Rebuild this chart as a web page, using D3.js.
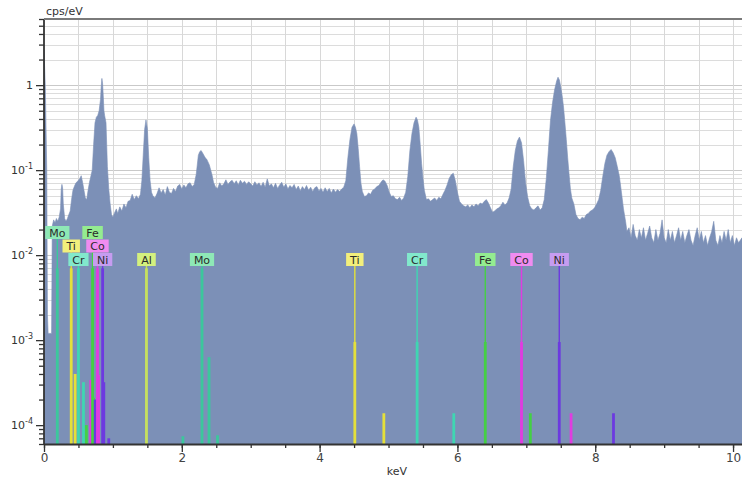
<!DOCTYPE html>
<html><head><meta charset="utf-8">
<script src="https://cdn.jsdelivr.net/npm/d3@7"></script>
<style>
body{margin:0;background:#fff;}
svg{display:block;font-family:"DejaVu Sans",Verdana,sans-serif;}
</style>
</head><body>
<svg id="chart" width="742" height="479"></svg>
<script>
// ---- DATA ----
// spectrum: [energy keV, cps/eV]
const spectrum = [
[0.00,2.6],[0.02,0.9],[0.04,0.1],[0.05,0.002],[0.06,0.0012],[0.08,0.0012],[0.10,0.0012],[0.11,0.0012],
[0.12,0.022],[0.14,0.026],[0.16,0.024],[0.18,0.027],[0.20,0.025],[0.22,0.028],[0.24,0.035],[0.25,0.06],
[0.26,0.068],[0.27,0.062],[0.28,0.04],[0.30,0.027],[0.32,0.025],[0.34,0.027],[0.36,0.03],[0.38,0.033],
[0.40,0.045],[0.42,0.058],[0.44,0.064],[0.46,0.07],[0.48,0.073],[0.50,0.076],[0.52,0.08],[0.54,0.086],
[0.56,0.072],[0.58,0.058],[0.60,0.047],[0.62,0.045],[0.64,0.058],[0.66,0.072],[0.68,0.085],[0.70,0.1],
[0.72,0.2],[0.74,0.36],[0.76,0.42],[0.78,0.44],[0.80,0.5],[0.82,0.68],[0.83,0.95],[0.84,1.2],
[0.85,1.05],[0.86,0.75],[0.87,0.5],[0.88,0.44],[0.90,0.36],[0.91,0.2],[0.92,0.11],[0.94,0.06],
[0.96,0.04],[0.98,0.03],[1.00,0.028],[1.02,0.031],[1.05,0.035],[1.07,0.031],[1.10,0.037],[1.13,0.033],
[1.16,0.04],[1.19,0.036],[1.22,0.043],[1.25,0.044],[1.28,0.052],[1.31,0.045],[1.34,0.05],[1.37,0.046],
[1.40,0.052],[1.42,0.075],[1.44,0.15],[1.46,0.3],[1.48,0.39],[1.50,0.31],[1.52,0.14],[1.54,0.075],
[1.56,0.055],[1.58,0.05],[1.61,0.047],[1.64,0.053],[1.67,0.062],[1.70,0.054],[1.73,0.059],[1.76,0.051],
[1.79,0.064],[1.82,0.055],[1.85,0.053],[1.88,0.061],[1.91,0.056],[1.94,0.065],[1.97,0.068],[2.00,0.06],
[2.03,0.067],[2.06,0.062],[2.09,0.069],[2.12,0.071],[2.15,0.064],[2.18,0.068],[2.21,0.09],[2.24,0.15],
[2.26,0.165],[2.28,0.17],[2.30,0.16],[2.32,0.15],[2.34,0.14],[2.36,0.135],[2.38,0.125],[2.40,0.115],
[2.42,0.1],[2.44,0.087],[2.46,0.072],[2.49,0.063],[2.52,0.061],[2.55,0.071],[2.58,0.065],[2.61,0.069],
[2.64,0.077],[2.67,0.068],[2.70,0.073],[2.73,0.076],[2.76,0.069],[2.79,0.075],[2.82,0.067],[2.85,0.076],
[2.88,0.07],[2.91,0.074],[2.94,0.068],[2.97,0.073],[3.00,0.069],[3.03,0.065],[3.06,0.073],[3.09,0.067],
[3.12,0.071],[3.15,0.064],[3.18,0.072],[3.21,0.063],[3.24,0.079],[3.27,0.065],[3.30,0.069],[3.33,0.062],
[3.36,0.07],[3.39,0.061],[3.42,0.067],[3.45,0.072],[3.48,0.063],[3.51,0.069],[3.54,0.06],[3.57,0.066],
[3.60,0.062],[3.63,0.068],[3.66,0.059],[3.69,0.065],[3.72,0.057],[3.75,0.064],[3.78,0.059],[3.81,0.066],
[3.84,0.058],[3.87,0.063],[3.90,0.056],[3.93,0.062],[3.96,0.064],[3.99,0.057],[4.02,0.061],[4.05,0.055],
[4.08,0.062],[4.11,0.056],[4.14,0.061],[4.17,0.054],[4.20,0.06],[4.23,0.055],[4.26,0.059],[4.29,0.056],
[4.32,0.06],[4.35,0.063],[4.38,0.075],[4.41,0.14],[4.44,0.23],[4.47,0.32],[4.50,0.35],[4.52,0.32],
[4.54,0.27],[4.56,0.18],[4.58,0.11],[4.60,0.07],[4.62,0.056],[4.65,0.049],[4.68,0.05],[4.71,0.054],
[4.74,0.052],[4.77,0.058],[4.80,0.06],[4.83,0.064],[4.86,0.066],[4.89,0.072],[4.92,0.077],[4.95,0.074],
[4.98,0.066],[5.01,0.055],[5.04,0.049],[5.07,0.05],[5.10,0.046],[5.13,0.045],[5.16,0.048],[5.19,0.044],
[5.22,0.047],[5.25,0.055],[5.28,0.085],[5.31,0.17],[5.34,0.27],[5.37,0.36],[5.40,0.42],[5.42,0.39],
[5.44,0.32],[5.46,0.2],[5.48,0.12],[5.50,0.08],[5.52,0.058],[5.55,0.045],[5.58,0.046],[5.61,0.043],
[5.64,0.045],[5.67,0.047],[5.70,0.044],[5.73,0.048],[5.76,0.046],[5.79,0.052],[5.82,0.058],[5.85,0.067],
[5.88,0.08],[5.91,0.088],[5.94,0.092],[5.97,0.075],[6.00,0.055],[6.03,0.043],[6.06,0.04],[6.09,0.038],
[6.12,0.037],[6.15,0.039],[6.18,0.036],[6.21,0.039],[6.24,0.037],[6.27,0.04],[6.30,0.038],[6.33,0.041],
[6.36,0.04],[6.39,0.043],[6.42,0.045],[6.45,0.041],[6.48,0.036],[6.51,0.032],[6.54,0.033],[6.57,0.035],
[6.60,0.036],[6.63,0.038],[6.66,0.042],[6.69,0.039],[6.72,0.041],[6.75,0.047],[6.78,0.06],[6.81,0.11],
[6.84,0.17],[6.87,0.22],[6.90,0.245],[6.93,0.21],[6.96,0.13],[6.99,0.07],[7.02,0.048],[7.05,0.038],
[7.08,0.035],[7.11,0.034],[7.14,0.036],[7.17,0.038],[7.20,0.034],[7.23,0.036],[7.26,0.045],[7.29,0.08],
[7.32,0.17],[7.35,0.38],[7.38,0.62],[7.41,0.88],[7.44,1.12],[7.46,1.24],[7.48,1.15],[7.50,0.95],
[7.52,0.75],[7.54,0.55],[7.56,0.36],[7.58,0.23],[7.60,0.14],[7.62,0.09],[7.64,0.06],[7.66,0.047],
[7.69,0.04],[7.72,0.03],[7.75,0.027],[7.78,0.026],[7.81,0.028],[7.84,0.027],[7.87,0.03],[7.90,0.031],
[7.93,0.033],[7.96,0.034],[7.99,0.036],[8.02,0.04],[8.05,0.045],[8.08,0.058],[8.11,0.085],[8.14,0.12],
[8.17,0.15],[8.20,0.165],[8.23,0.175],[8.26,0.16],[8.29,0.14],[8.32,0.11],[8.35,0.085],[8.38,0.055],
[8.41,0.035],[8.44,0.025],[8.46,0.019],[8.49,0.021],[8.52,0.016],[8.55,0.023],[8.58,0.017],[8.61,0.015],
[8.64,0.02],[8.67,0.016],[8.70,0.021],[8.73,0.015],[8.76,0.018],[8.79,0.022],[8.82,0.016],[8.85,0.014],
[8.88,0.02],[8.91,0.015],[8.94,0.018],[8.97,0.026],[9.00,0.016],[9.03,0.014],[9.06,0.02],[9.09,0.015],
[9.12,0.019],[9.15,0.014],[9.18,0.017],[9.21,0.021],[9.24,0.015],[9.27,0.019],[9.30,0.014],[9.33,0.017],
[9.36,0.02],[9.39,0.015],[9.42,0.013],[9.45,0.017],[9.48,0.021],[9.51,0.015],[9.54,0.019],[9.57,0.014],
[9.60,0.017],[9.63,0.013],[9.66,0.016],[9.69,0.019],[9.72,0.025],[9.75,0.015],[9.78,0.013],[9.81,0.017],
[9.84,0.014],[9.87,0.019],[9.90,0.015],[9.93,0.02],[9.96,0.014],[9.99,0.017],[10.02,0.013],[10.05,0.016],
[10.08,0.014],[10.13,0.016]
];

// element marker lines: [element, energy keV, relative height (cps/eV scale), labelled]
const markerLines = [
["Mo",0.193,0.007,true],["Ti",0.395,0.007,true],["Ti",0.452,4.0e-4,false],["Cr",0.500,0.007,true],
["Cr",0.573,3.2e-4,false],["Fe",0.615,1.0e-4,false],["Co",0.678,3.4e-4,false],["Fe",0.705,0.007,true],
["Fe",0.718,2.1e-4,false],["Ni",0.743,2.0e-4,false],["Co",0.776,0.007,true],["Co",0.791,3.9e-4,false],
["Ni",0.851,0.007,true],["Ni",0.868,3.2e-4,false],["Ni",0.94,7.0e-5,false],
["Al",1.487,0.007,true],["Mo",2.016,7.4e-5,false],["Mo",2.293,0.007,true],["Mo",2.395,6.3e-4,false],
["Mo",2.518,7.6e-5,false],
["Ti",4.511,9.5e-4,true],["Ti",4.932,1.38e-4,false],["Cr",5.415,9.5e-4,true],["Cr",5.947,1.38e-4,false],
["Fe",6.404,9.5e-4,true],["Fe",7.058,1.38e-4,false],["Co",6.930,9.5e-4,true],["Co",7.649,1.38e-4,false],
["Ni",7.478,9.5e-4,true],["Ni",8.265,1.38e-4,false]
];

const xMajorTicks = [0,2,4,6,8,10];
const yDecades = [1e-4,1e-3,1e-2,1e-1,1];
const yDecadeExp = ["-4","-3","-2","-1",""];

// ---- STYLES ----
const lineColor = {Mo:"#3cc79c",Ti:"#e4e03a",Cr:"#3fd6b2",Fe:"#44d044",Co:"#e03ce0",Ni:"#6c3ae0",Al:"#c6e05e"};
const boxColor  = {Mo:"#8ee8b6",Ti:"#f2ef7c",Cr:"#82e8cc",Fe:"#94ec90",Co:"#f08cf0",Ni:"#c69cf0",Al:"#d4f07e"};

const W=742,H=479, L=44, R=742, T=19, B=444;
const svg=d3.select("#chart");
const x=d3.scaleLinear().domain([0,10.13]).range([L,R]);
const y=d3.scaleLog().domain([6e-5,6]).range([B,T]);

const yAll=[];
for(let e=-5;e<=0;e++) for(let m=1;m<=9;m++){const v=m*Math.pow(10,e); if(v>=6e-5&&v<=6) yAll.push(v);}
const yMinor=yAll.filter(v=>!yDecades.some(d=>Math.abs(d-v)/d<1e-9));

// grid
const grid=svg.append("g");
grid.selectAll("line.h").data(yAll).join("line")
 .attr("x1",L).attr("x2",R).attr("y1",d=>Math.round(y(d))+0.5).attr("y2",d=>Math.round(y(d))+0.5)
 .attr("stroke",d=>yDecades.includes(d)?"#c9c9c9":"#dcdcdc").attr("stroke-width",1);
grid.selectAll("line.v").data(d3.range(0.5,10.01,0.5)).join("line")
 .attr("x1",d=>Math.round(x(d))+0.5).attr("x2",d=>Math.round(x(d))+0.5).attr("y1",T).attr("y2",B)
 .attr("stroke","#d8d8d8").attr("stroke-width",1);

// spectrum
svg.append("clipPath").attr("id","plotclip").append("rect").attr("x",L).attr("y",T).attr("width",R-L).attr("height",B-T);
const area=d3.area().x(d=>x(d[0])).y0(B).y1(d=>y(Math.max(d[1],6e-5)));
svg.append("path").datum(spectrum).attr("clip-path","url(#plotclip)")
 .attr("d",area).attr("fill","#7c90b7").attr("stroke","#7c90b7").attr("stroke-width",0.6);

// element labels (stacked)
const labelled=markerLines.filter(d=>d[3]).slice().sort((a,b)=>b[1]-a[1]);
const boxH=13, row0Top=253, rowStep=13.5, pad=2;
const labG=svg.append("g");
const placed=[];
labelled.forEach(d=>{
  const cx=x(d[1]);
  const t=labG.append("text").text(d[0]).attr("font-size",11).attr("text-anchor","middle");
  const w=t.node().getComputedTextLength()+8;
  const x0=cx-w/2, x1=cx+w/2;
  let r=0;
  while(placed.some(p=>p.r===r && !(x1+pad<p.x0 || x0-pad>p.x1))) r++;
  placed.push({r,x0,x1,d,w,t});
});
const lineG=svg.append("g");
placed.forEach(p=>{
  const top=row0Top-p.r*rowStep+boxH;
  lineG.append("line").attr("x1",x(p.d[1])).attr("x2",x(p.d[1])).attr("y1",top).attr("y2",B)
    .attr("stroke",lineColor[p.d[0]]).attr("stroke-width",1.4);
});
lineG.selectAll("rect.m").data(markerLines).join("rect")
  .attr("x",d=>x(d[1])-1.4).attr("width",2.8)
  .attr("y",d=>y(d[2])).attr("height",d=>B-y(d[2]))
  .attr("fill",d=>lineColor[d[0]]);
labG.raise();
placed.forEach(p=>{
  const top=row0Top-p.r*rowStep;
  labG.insert("rect","text").attr("x",p.x0).attr("y",top).attr("width",p.w).attr("height",boxH)
    .attr("fill",boxColor[p.d[0]]);
  p.t.attr("x",x(p.d[1])).attr("y",top+10.5).attr("fill","#2a2a2a");
});

// axes
const ax=svg.append("g").attr("transform",`translate(${L},0)`);
ax.call(d3.axisLeft(y).tickValues(yMinor).tickSize(5).tickSizeOuter(0).tickFormat(""));
ax.select(".domain").remove();
const ax2=svg.append("g").attr("transform",`translate(${L},0)`);
ax2.call(d3.axisLeft(y).tickValues(yDecades).tickSize(8).tickSizeOuter(0).tickFormat(""));
ax2.select(".domain").remove();
svg.append("line").attr("x1",L).attr("x2",L).attr("y1",T).attr("y2",B+1).attr("stroke","#333").attr("stroke-width",1.8);

const yl=svg.append("g").attr("font-size",11).attr("fill","#333");
yDecades.forEach((v,i)=>{
  const t=yl.append("text").attr("x",33).attr("y",y(v)+4).attr("text-anchor","end");
  if(yDecadeExp[i]===""){t.text("1");}
  else{t.append("tspan").text("10"); t.append("tspan").attr("dy",-5).attr("font-size",8).text(yDecadeExp[i]);}
});

const bx=svg.append("g").attr("transform",`translate(0,${B})`);
bx.call(d3.axisBottom(x).tickValues(d3.range(0,10.01,0.5)).tickSize(4).tickSizeOuter(0).tickFormat(""));
bx.select(".domain").remove();
const bx2=svg.append("g").attr("transform",`translate(0,${B})`);
bx2.call(d3.axisBottom(x).tickValues(xMajorTicks).tickSize(8).tickSizeOuter(0).tickFormat(d3.format("d")));
bx2.select(".domain").remove();
bx2.selectAll("text").attr("font-size",12).attr("fill","#444").attr("font-family","DejaVu Sans, sans-serif").attr("dy","0.55em");
svg.selectAll(".tick line").attr("stroke","#333").attr("stroke-width",1.3);
svg.append("line").attr("x1",L).attr("x2",R).attr("y1",B+0.5).attr("y2",B+0.5).attr("stroke","#333").attr("stroke-width",1.8);
svg.append("line").attr("x1",L).attr("x2",R).attr("y1",T).attr("y2",T).attr("stroke","#7a7a7a").attr("stroke-width",2);

svg.append("text").attr("x",46).attr("y",15).attr("font-size",11).attr("fill","#333").text("cps/eV");
svg.append("text").attr("x",397).attr("y",475).attr("text-anchor","middle").attr("font-size",11).attr("fill","#333").text("keV");
</script>
</body></html>
